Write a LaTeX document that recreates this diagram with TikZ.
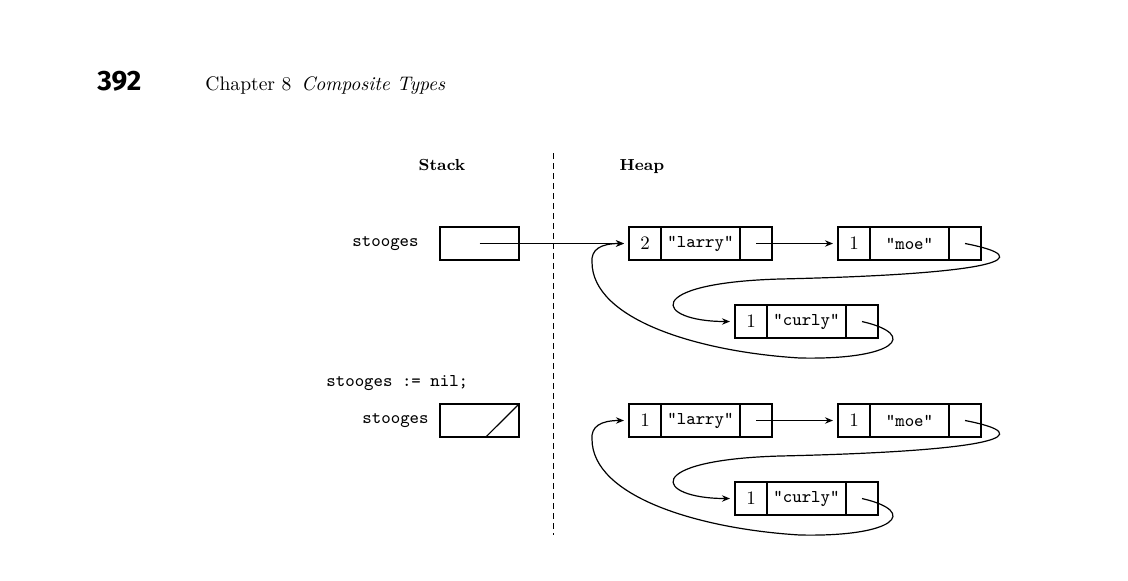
\documentclass[tikz,border=0pt]{standalone}
\usepackage{fontspec}
\newfontfamily\pagenofont{Fira Sans}
\usetikzlibrary{arrows.meta,positioning,calc}

\tikzset{
  cell/.style={draw, line width=0.8pt, outer sep=0pt, inner sep=0pt,
    minimum height=16.5pt, font=\ttfamily\fontsize{9}{10}\selectfont},
  cntcell/.style={cell, minimum width=16pt, font=\fontsize{9.5}{11}\selectfont},
  strcell/.style={cell, minimum width=39.5pt},
  ptrcell/.style={cell, minimum width=16pt},
  ptr/.style={line width=0.6pt, -{Stealth[length=4pt,width=3.2pt]}, shorten >=2.5pt},
  varname/.style={font=\ttfamily\fontsize{9}{10}\selectfont, inner sep=0pt},
  colhead/.style={font=\bfseries\fontsize{8}{10}\selectfont, anchor=base, inner sep=0pt}
}

\begin{document}
\begin{tikzpicture}[x=0.5pt,y=-0.5pt]
\useasboundingbox (0,0) rectangle (1128,580);

% running head
\node[anchor=base west, inner sep=0pt,
  font=\pagenofont\bfseries\fontsize{14}{16}\selectfont] (pageno) at (97,90) {392};
\node[anchor=base west, inner sep=0pt, font=\fontsize{9.8}{12}\selectfont]
  (runhead) at (205,90) {Chapter 8\enspace\textit{Composite Types}};

% stack / heap
\node[colhead] (stack) at (442,170) {Stack};
\node[colhead] (heap) at (642,170) {Heap};
\coordinate (divtop) at (553,153);
\coordinate (divbot) at (553,535);
\draw[line width=0.5pt, dash pattern=on 3pt off 2pt] (divtop) -- (divbot);

% the variable, before and after
\node[cell, minimum width=39.5pt] (stk1) at (479.5,243.5) {};
\node[varname, left=10.5pt of stk1] (var1) {stooges};
\node[varname, anchor=west] (assign) at (326,383) {stooges := nil;};
\node[cell, minimum width=39.5pt] (stk2) at (479.5,420.5) {};
\node[varname, left=5.5pt of stk2] (var2) {stooges};
\draw[line width=0.6pt] ($(stk2.south west)!0.58!(stk2.south east)$) -- (stk2.north east);

% the circular list, twice
\foreach \r/\n in {1/2,2/1}{
\begin{scope}[shift={(0,{(\r-1)*177})}]
  \node[cntcell] (lc\r) at (645,243.5) {\n};
  \node[strcell, right=0pt of lc\r] (ls\r) {"larry"};
  \node[ptrcell, right=0pt of ls\r] (lp\r) {};
  \node[cntcell] (mc\r) at (854,243.5) {1};
  \node[strcell, right=0pt of mc\r] (ms\r) {"moe"};
  \node[ptrcell, right=0pt of ms\r] (mp\r) {};
  \node[cntcell] (cc\r) at (751,321.5) {1};
  \node[strcell, right=0pt of cc\r] (cs\r) {"curly"};
  \node[ptrcell, right=0pt of cs\r] (cp\r) {};
  \draw[ptr] (lp\r.center) -- (mc\r.west);
  \draw[ptr] (mp\r.center) .. controls (1040,258) and (1000,274) .. (780,279)
    .. controls (640,283) and (655,321.5) .. (cc\r.west);
  \draw[ptr] (cp\r.center) .. controls (920,335) and (895,360) .. (800,358)
    .. controls (700,352) and (592,320) .. (592,262)
    .. controls (591,250) and (600,243.5) .. (lc\r.west);
\end{scope}
}

\draw[ptr] (stk1.center) -- (lc1.west);
\end{tikzpicture}
\end{document}
